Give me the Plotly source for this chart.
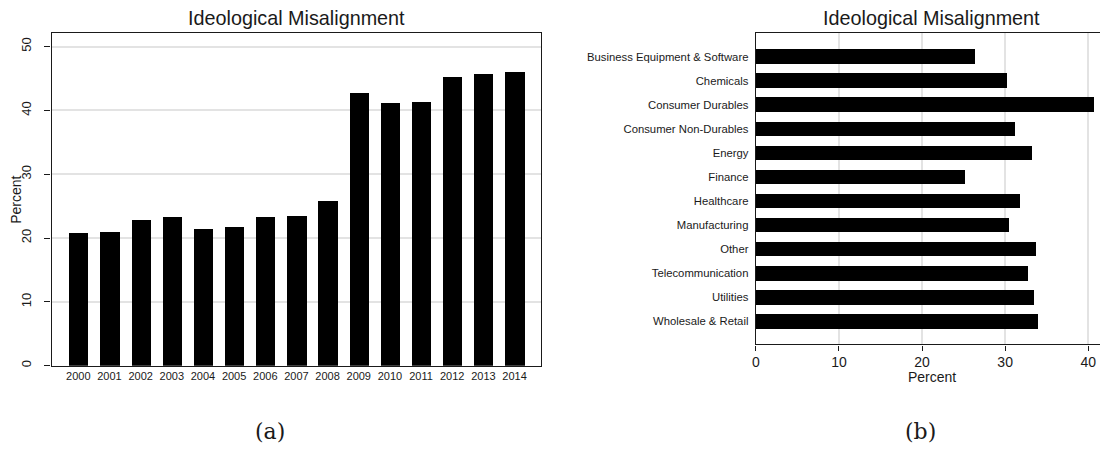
import plotly.graph_objects as go

# ---------------- data ----------------
years = ["2000", "2001", "2002", "2003", "2004", "2005", "2006", "2007",
         "2008", "2009", "2010", "2011", "2012", "2013", "2014"]
year_values = [20.7, 20.9, 22.85, 23.2, 21.4, 21.7, 23.2, 23.5,
               25.7, 42.7, 41.1, 41.3, 45.2, 45.6, 46.0]

industries = ["Business Equipment & Software", "Chemicals", "Consumer Durables",
              "Consumer Non-Durables", "Energy", "Finance", "Healthcare",
              "Manufacturing", "Other", "Telecommunication", "Utilities",
              "Wholesale & Retail"]
industry_values = [26.3, 30.2, 40.7, 31.2, 33.2, 25.2, 31.8, 30.5,
                   33.7, 32.7, 33.5, 33.9]

left_yticks = [0, 10, 20, 30, 40, 50]
right_xticks = [0, 10, 20, 30, 40]

title_text = "Ideological Misalignment"
axis_label = "Percent"
captions = ["(a)", "(b)"]

# ---------------- layout helpers ----------------
W, H = 1100, 449
def px_x(p):
    return p / W
def px_y(p):
    return 1 - p / H

FONT = "Liberation Sans, Arial, sans-serif"
TXT = "#1a1a1a"
GRID = "#e3e3e3"

fig = go.Figure()

fig.add_trace(go.Bar(
    x=list(range(len(years))), y=year_values, width=0.617,
    marker=dict(color="black", line=dict(width=0)),
    xaxis="x", yaxis="y", showlegend=False))

fig.add_trace(go.Bar(
    y=list(range(len(industries))), x=industry_values, width=0.62,
    orientation="h",
    marker=dict(color="black", line=dict(width=0)),
    xaxis="x2", yaxis="y2", showlegend=False))

L_left, L_right = 47.7, 539.3
L_top, L_bot = 33.3, 367.3
R_left, R_top, R_bot = 754.6, 33.3, 346.0

fig.update_layout(
    width=W, height=H,
    margin=dict(l=0, r=0, t=0, b=0),
    paper_bgcolor="white", plot_bgcolor="white",
    font=dict(family=FONT, color=TXT),
    bargap=0,
    xaxis=dict(
        domain=[px_x(L_left), px_x(L_right)], anchor="y",
        range=[-0.86, 14.86], tickvals=list(range(len(years))), ticktext=years,
        showgrid=False, zeroline=False, showline=True, linecolor="#1a1a1a",
        linewidth=1.3, mirror=True, ticks="", tickfont=dict(size=11, color=TXT),
    ),
    yaxis=dict(
        domain=[px_y(L_bot), px_y(L_top)], anchor="x",
        range=[0, 52.1], tickvals=left_yticks, tickangle=-90,
        ticks="outside", ticklen=6, tickcolor="#1a1a1a", tickwidth=1,
        ticklabelstandoff=8,
        showgrid=True, gridcolor=GRID, gridwidth=1.5, zeroline=False,
        showline=True, linecolor="#1a1a1a", linewidth=1.3, mirror=True,
        tickfont=dict(size=13, color=TXT),
    ),
    xaxis2=dict(
        domain=[px_x(R_left), 1.0], anchor="y2",
        range=[0, (W - R_left) / 8.34], tickvals=right_xticks,
        ticks="outside", ticklen=5, tickcolor="#1a1a1a",
        showgrid=True, gridcolor=GRID, gridwidth=1.5, zeroline=False,
        showline=True, linecolor="#1a1a1a", linewidth=1.3, mirror=True,
        tickfont=dict(size=14, color=TXT),
    ),
    yaxis2=dict(
        domain=[px_y(R_bot), px_y(R_top)], anchor="x2",
        range=[11.966, -0.995], tickvals=list(range(len(industries))),
        ticktext=industries, ticks="", showgrid=False, zeroline=False,
        ticklabelstandoff=4,
        showline=True, linecolor="#1a1a1a", linewidth=1.3,
        tickfont=dict(size=11.3, color=TXT),
    ),
)

ann = []
# titles
for cx in [(L_left + L_right) / 2, 931]:
    ann.append(dict(text=title_text, x=px_x(cx), y=px_y(18.5),
                    xref="paper", yref="paper", showarrow=False,
                    font=dict(size=19.8, family=FONT, color=TXT),
                    xanchor="center", yanchor="middle"))
# axis titles
ann.append(dict(text=axis_label, x=px_x(12.5), y=px_y((L_top + L_bot) / 2),
                xref="paper", yref="paper", showarrow=False, textangle=-90,
                font=dict(size=14, family=FONT, color=TXT),
                xanchor="center", yanchor="middle"))
ann.append(dict(text=axis_label, x=px_x(931), y=px_y(379),
                xref="paper", yref="paper", showarrow=False,
                font=dict(size=14, family=FONT, color=TXT),
                xanchor="center", yanchor="middle"))
# captions
for cap, cx in zip(captions, [267, 920]):
    ann.append(dict(text=cap, x=px_x(cx), y=px_y(433),
                    xref="paper", yref="paper", showarrow=False,
                    font=dict(size=22, family="DejaVu Serif, serif", color=TXT),
                    xanchor="center", yanchor="middle"))
fig.update_layout(annotations=ann)

fig.write_html("out.html")
